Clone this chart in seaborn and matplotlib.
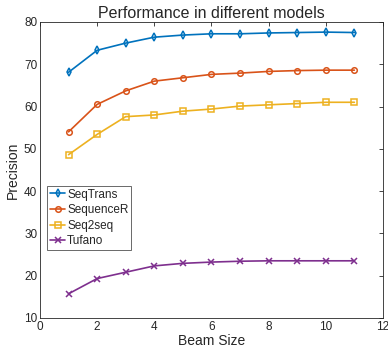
import matplotlib
matplotlib.use("Agg")
import matplotlib.pyplot as plt
import seaborn as sns
import pandas as pd

beam = [1, 2, 3, 4, 5, 6, 7, 8, 9, 10, 11]
seqtrans = [68.1, 73.3, 75.0, 76.4, 76.9, 77.2, 77.2, 77.4, 77.5, 77.6, 77.5]
sequencer = [54.0, 60.5, 63.7, 66.0, 66.8, 67.6, 67.9, 68.3, 68.5, 68.6, 68.6]
seq2seq = [48.6, 53.4, 57.6, 58.0, 58.9, 59.4, 60.1, 60.4, 60.7, 61.0, 61.0]
tufano = [15.7, 19.3, 20.8, 22.3, 22.9, 23.2, 23.4, 23.5, 23.5, 23.5, 23.5]

models = ["SeqTrans", "SequenceR", "Seq2seq", "Tufano"]
colors = ["#0072BD", "#D95319", "#EDB120", "#7E2F8E"]
markers = ["d", "o", "s", "x"]

df = pd.concat([
    pd.DataFrame({"Beam Size": beam, "Precision": vals, "model": m})
    for m, vals in zip(models, [seqtrans, sequencer, seq2seq, tufano])
])

sns.set_style("white")
plt.rcParams["font.family"] = ["Liberation Sans", "DejaVu Sans"]

fig = plt.figure(figsize=(3.88, 3.6), dpi=100)
ax = fig.add_axes([0.103, 0.117, 0.884, 0.822])

for m, c, mk in zip(models, colors, markers):
    sub = df[df["model"] == m]
    sns.lineplot(x="Beam Size", y="Precision", data=sub, ax=ax, color=c, label=m,
                 marker=mk, markersize=4, markerfacecolor="none",
                 markeredgecolor=c, markeredgewidth=1.1, linewidth=1.2)

ax.set_xlim(0, 12)
ax.set_ylim(10, 80)
ax.set_xticks(range(0, 13, 2))
ax.set_yticks(range(10, 81, 10))
ax.tick_params(direction="in", top=True, right=True, labelsize=8.5, length=3,
               width=0.6, colors="#262626", pad=2)
for s in ax.spines.values():
    s.set_color("#262626")
    s.set_linewidth(0.6)
ax.set_xlabel("Beam Size", fontsize=10, color="#262626", labelpad=1)
ax.set_ylabel("Precision", fontsize=10, color="#262626", labelpad=3)
ax.set_title("Performance in different models", fontsize=11.5, pad=3)

leg = ax.legend(loc="lower left", bbox_to_anchor=(0.0, 0.205), fontsize=8.5,
                frameon=True, fancybox=False, borderpad=0.25, labelspacing=0.3,
                handlelength=1.3, handletextpad=0.15, borderaxespad=0.6)
leg.get_frame().set_edgecolor("#262626")
leg.get_frame().set_linewidth(0.6)

fig.savefig("out.png", dpi=100)
